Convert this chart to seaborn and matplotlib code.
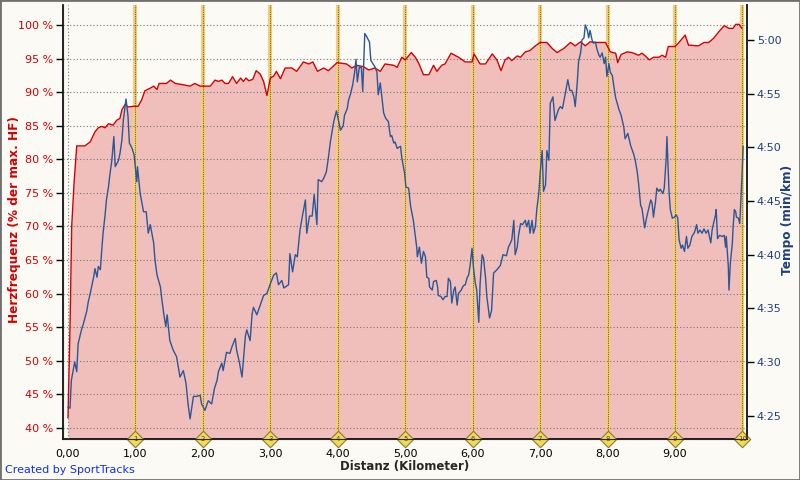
import numpy as np
import pandas as pd
import matplotlib
matplotlib.use("Agg")
import matplotlib.pyplot as plt
import seaborn as sns
from matplotlib.ticker import FuncFormatter
from matplotlib.patches import Rectangle

# heart rate (% of max HR) by distance
hr_km = [0.0, 0.01, 0.03, 0.055, 0.09, 0.13, 0.25, 0.33, 0.40, 0.45, 0.50, 0.55, 0.60, 0.67, 0.72,
         0.77, 0.80, 0.85, 0.89, 0.97, 1.04, 1.09, 1.14, 1.22, 1.27, 1.32, 1.35, 1.46, 1.52, 1.59,
         1.71, 1.81, 1.88, 1.96, 2.11, 2.18, 2.23, 2.28, 2.33, 2.38, 2.44, 2.50, 2.56, 2.60, 2.64,
         2.68, 2.74, 2.79, 2.85, 2.90, 2.95, 3.00, 3.05, 3.09, 3.15, 3.22, 3.32, 3.39, 3.49, 3.57,
         3.63, 3.70, 3.79, 3.86, 3.99, 4.13, 4.21, 4.28, 4.38, 4.46, 4.55, 4.63, 4.70, 4.83, 4.88,
         4.95, 5.00, 5.09, 5.15, 5.20, 5.27, 5.35, 5.42, 5.47, 5.54, 5.59, 5.68, 5.79, 5.89, 5.99,
         6.02, 6.11, 6.19, 6.29, 6.36, 6.42, 6.48, 6.53, 6.58, 6.66, 6.71, 6.78, 6.85, 6.93, 7.00,
         7.10, 7.18, 7.25, 7.35, 7.45, 7.52, 7.60, 7.67, 7.74, 7.84, 7.97, 8.04, 8.12, 8.15, 8.20,
         8.29, 8.36, 8.46, 8.51, 8.56, 8.62, 8.68, 8.76, 8.81, 8.86, 8.90, 9.00, 9.05, 9.15, 9.20,
         9.35, 9.43, 9.50, 9.57, 9.65, 9.73, 9.80, 9.86, 9.90, 9.95, 9.99]
hr_pct = [41.5, 46.0, 55.0, 70.0, 76.5, 82.0, 82.0, 82.6, 84.1, 84.7, 84.9, 84.7, 85.3, 85.1, 85.8,
          86.1, 87.4, 88.2, 87.8, 87.9, 87.9, 88.8, 90.2, 90.6, 90.9, 90.4, 91.3, 91.3, 91.8, 91.3,
          91.1, 90.9, 91.3, 90.9, 90.9, 91.8, 91.6, 91.8, 91.3, 91.3, 92.3, 91.3, 92.1, 91.6, 92.1,
          91.7, 91.9, 93.2, 92.7, 91.6, 89.5, 92.1, 92.4, 93.1, 92.0, 93.6, 93.6, 93.1, 94.5, 94.2,
          94.5, 93.1, 93.6, 93.2, 94.4, 94.2, 93.6, 94.0, 93.8, 93.3, 93.6, 93.1, 94.2, 94.0, 93.7,
          95.2, 94.8, 95.9, 95.2, 94.3, 92.6, 92.6, 94.0, 93.1, 94.0, 94.2, 95.8, 95.2, 94.5, 94.5,
          95.7, 94.2, 94.2, 95.7, 94.8, 93.2, 94.8, 95.2, 94.7, 95.4, 95.2, 96.0, 96.2, 96.9, 97.4,
          97.4, 96.5, 95.9, 96.5, 97.4, 96.9, 97.5, 96.9, 97.5, 97.4, 97.4, 96.0, 95.8, 94.4, 95.6,
          96.0, 95.9, 95.5, 95.8, 95.4, 94.8, 95.2, 95.2, 95.5, 95.2, 96.8, 96.8, 97.3, 98.5, 97.0,
          96.9, 97.4, 97.4, 98.0, 99.0, 99.9, 99.5, 99.5, 100.1, 100.1, 99.5]

# pace in seconds per km by distance
pace_km = [0.00, 0.03, 0.05, 0.10, 0.13, 0.15, 0.20, 0.23, 0.28, 0.30, 0.33, 0.35, 0.38, 0.40, 0.43,
           0.45, 0.48, 0.50, 0.52, 0.55, 0.57, 0.60, 0.62, 0.65, 0.68, 0.70, 0.75, 0.77, 0.80, 0.82,
           0.86, 0.89, 0.91, 0.95, 0.98, 1.02, 1.03, 1.07, 1.12, 1.16, 1.19, 1.22, 1.27, 1.29, 1.32,
           1.37, 1.39, 1.42, 1.45, 1.47, 1.51, 1.56, 1.61, 1.66, 1.71, 1.75, 1.78, 1.81, 1.86, 1.91,
           1.96, 1.98, 2.03, 2.08, 2.13, 2.17, 2.21, 2.23, 2.28, 2.30, 2.35, 2.40, 2.43, 2.48, 2.50,
           2.54, 2.58, 2.63, 2.65, 2.70, 2.73, 2.75, 2.80, 2.85, 2.90, 2.95, 3.00, 3.05, 3.09, 3.12,
           3.17, 3.20, 3.27, 3.29, 3.33, 3.37, 3.40, 3.44, 3.47, 3.52, 3.54, 3.58, 3.62, 3.65, 3.69,
           3.71, 3.76, 3.79, 3.83, 3.86, 3.89, 3.94, 3.98, 4.01, 4.04, 4.08, 4.10, 4.14, 4.16, 4.19,
           4.22, 4.25, 4.27, 4.29, 4.32, 4.35, 4.37, 4.40, 4.43, 4.47, 4.49, 4.52, 4.55, 4.58, 4.60,
           4.63, 4.65, 4.68, 4.71, 4.75, 4.78, 4.80, 4.83, 4.85, 4.88, 4.93, 4.95, 4.99, 5.01, 5.05,
           5.08, 5.12, 5.15, 5.17, 5.18, 5.21, 5.24, 5.27, 5.30, 5.32, 5.35, 5.36, 5.40, 5.42, 5.46,
           5.48, 5.49, 5.53, 5.56, 5.59, 5.62, 5.64, 5.67, 5.69, 5.72, 5.74, 5.77, 5.79, 5.83, 5.86,
           5.89, 5.92, 5.94, 5.96, 5.99, 6.01, 6.04, 6.06, 6.09, 6.11, 6.14, 6.16, 6.19, 6.21, 6.25,
           6.28, 6.31, 6.36, 6.41, 6.45, 6.50, 6.53, 6.56, 6.58, 6.61, 6.63, 6.66, 6.68, 6.71, 6.74,
           6.78, 6.80, 6.83, 6.85, 6.88, 6.90, 6.93, 6.95, 6.98, 7.00, 7.03, 7.05, 7.08, 7.10, 7.13,
           7.15, 7.19, 7.22, 7.27, 7.30, 7.33, 7.37, 7.41, 7.44, 7.47, 7.50, 7.52, 7.55, 7.57, 7.60,
           7.62, 7.65, 7.67, 7.70, 7.72, 7.74, 7.77, 7.79, 7.82, 7.84, 7.87, 7.89, 7.92, 7.95, 7.97,
           7.99, 8.02, 8.04, 8.07, 8.09, 8.12, 8.17, 8.20, 8.24, 8.26, 8.30, 8.34, 8.39, 8.41, 8.44,
           8.46, 8.49, 8.51, 8.55, 8.58, 8.61, 8.64, 8.66, 8.68, 8.71, 8.73, 8.76, 8.78, 8.82, 8.84,
           8.87, 8.88, 8.91, 8.93, 8.96, 8.99, 9.02, 9.04, 9.06, 9.09, 9.11, 9.14, 9.17, 9.19, 9.22,
           9.25, 9.29, 9.32, 9.34, 9.37, 9.40, 9.43, 9.46, 9.49, 9.53, 9.55, 9.57, 9.60, 9.61, 9.63,
           9.66, 9.70, 9.73, 9.75, 9.76, 9.79, 9.80, 9.82, 9.85, 9.86, 9.88, 9.90, 9.91, 9.94, 9.96,
           9.99, 10.01]
pace_sec = [265.8, 265.7, 268.3, 270.0, 269.1, 271.7, 273.0, 273.6, 274.8, 275.6, 276.4, 277.0, 277.9, 278.7, 277.9,
            278.9, 278.6, 280.4, 282.0, 283.7, 285.1, 286.3, 287.4, 288.8, 291.0, 288.2, 288.8, 289.4, 290.7, 292.5,
            294.5, 292.9, 290.4, 289.9, 289.3, 286.8, 288.2, 285.7, 284.0, 284.0, 282.0, 282.8, 281.1, 279.5, 278.1,
            277.0, 275.9, 274.5, 273.3, 274.4, 272.0, 271.1, 270.5, 268.6, 269.2, 268.0, 266.1, 264.7, 266.8, 266.8,
            266.9, 266.1, 265.5, 266.4, 266.1, 267.5, 268.3, 269.1, 269.9, 269.2, 270.9, 270.8, 271.4, 272.2, 271.1,
            270.0, 268.6, 272.4, 273.0, 272.0, 274.5, 275.1, 274.4, 275.3, 276.2, 276.4, 277.3, 278.1, 278.3, 277.2,
            277.6, 276.9, 277.2, 280.1, 278.4, 280.0, 279.8, 282.3, 283.4, 285.1, 282.0, 283.6, 283.6, 285.6, 282.8,
            287.0, 286.8, 287.1, 287.7, 289.0, 290.5, 292.4, 293.4, 292.5, 291.6, 292.0, 293.0, 293.6, 294.4, 295.0,
            295.8, 297.0, 298.2, 296.1, 297.5, 297.4, 295.2, 300.6, 300.3, 299.8, 298.1, 297.8, 297.5, 297.0, 294.9,
            296.0, 294.9, 293.2, 292.7, 292.4, 291.0, 291.1, 290.4, 290.5, 289.9, 290.1, 289.0, 287.6, 286.3, 286.2,
            284.5, 283.2, 281.7, 280.7, 279.8, 280.7, 279.2, 280.3, 279.8, 277.9, 277.8, 277.0, 276.7, 277.5, 277.6,
            277.0, 276.2, 276.1, 275.8, 276.1, 276.1, 277.8, 277.5, 275.5, 276.7, 277.0, 275.3, 276.4, 276.7, 277.1,
            277.2, 277.9, 278.1, 278.9, 280.6, 278.9, 277.3, 276.7, 273.7, 277.3, 280.0, 279.7, 277.9, 276.1, 274.1,
            274.8, 278.3, 278.6, 279.0, 280.0, 279.9, 280.7, 281.1, 281.4, 283.2, 280.0, 280.7, 281.8, 282.9, 282.8,
            283.2, 282.6, 283.2, 282.0, 283.2, 282.0, 282.6, 284.2, 285.7, 287.6, 289.7, 285.9, 286.5, 289.7, 288.8,
            294.1, 294.7, 292.5, 293.5, 293.8, 293.6, 294.9, 296.3, 295.3, 295.3, 294.7, 293.8, 296.0, 298.0, 298.8,
            300.0, 300.2, 301.4, 300.9, 300.2, 300.9, 300.0, 299.7, 299.8, 299.2, 298.6, 298.4, 298.8, 297.8, 298.4,
            296.6, 297.8, 297.0, 296.7, 295.8, 294.6, 293.5, 293.0, 291.9, 290.8, 291.3, 290.2, 289.3, 288.8, 287.7,
            286.6, 284.6, 284.3, 282.5, 283.5, 284.3, 285.1, 284.8, 283.5, 284.9, 286.2, 285.9, 286.1, 285.7, 286.2,
            289.1, 291.0, 286.0, 284.2, 283.4, 283.5, 283.7, 283.4, 281.4, 280.6, 280.9, 280.3, 281.7, 280.6, 280.9,
            281.7, 282.1, 282.8, 282.0, 282.3, 282.0, 282.4, 282.0, 282.3, 281.1, 282.3, 282.9, 283.7, 284.2, 281.5,
            281.8, 281.7, 281.8, 280.7, 281.7, 278.9, 276.7, 279.2, 281.1, 282.5, 284.2, 284.0, 283.5, 283.4, 282.9,
            287.0, 290.1]

km_marks = [1, 2, 3, 4, 5, 6, 7, 8, 9, 10]
hr_ticks = [40, 45, 50, 55, 60, 65, 70, 75, 80, 85, 90, 95, 100]
pace_ticks = [265, 270, 275, 280, 285, 290, 295, 300]

bg = "#fbfaf4"
red = "#d40000"
blue = "#2b5797"
navy = "#1f3f7a"

sns.set_style("white")
plt.rcParams["font.family"] = ["DejaVu Sans"]

fig = plt.figure(figsize=(8, 4.8), dpi=100, facecolor=bg)
ax = fig.add_axes([63 / 800, 41 / 480, 684 / 800, 434 / 480], facecolor=bg)

hr = pd.DataFrame({"km": hr_km, "hr": hr_pct})
pace = pd.DataFrame({"km": pace_km, "sec": pace_sec})

ylo, yhi = 38.36, 102.98
ax.fill_between(hr["km"], hr["hr"], ylo, color="#f0bfbc", lw=0, zorder=1)
sns.lineplot(data=hr, x="km", y="hr", ax=ax, color=red, lw=1.0, zorder=5, sort=False)

# km markers
for k in km_marks:
    ax.axvline(k, color="#f3cf7a", lw=3, zorder=2)
    ax.axvline(k, color="#7a6020", lw=0.8, ls=(0, (1, 1)), zorder=3)
ax.axvline(0, color="#777777", lw=0.8, ls=(0, (1, 2)), zorder=3)
for t in hr_ticks:
    ax.axhline(t, color="#777777", lw=0.8, ls=(0, (1, 2)), zorder=3)

ax.set_xlim(-0.074, 10.067)
ax.set_ylim(ylo, yhi)
ax.set_xticks(range(0, 10))
ax.set_xticklabels([f"{k},00" for k in range(0, 10)])
ax.set_yticks(hr_ticks)
ax.set_yticklabels([f"{t} %" for t in hr_ticks])
ax.tick_params(axis="y", colors=red, labelsize=8, length=5, width=1, direction="out", pad=2)
ax.tick_params(axis="y", color="black")
ax.tick_params(axis="x", labelsize=8, length=0, pad=7, colors="black")
ax.set_xlabel("Distanz (Kilometer)", fontsize=8.5, fontweight="bold", labelpad=1)
ax.set_ylabel("Herzfrequenz (% der max. HF)", fontsize=8.7, fontweight="bold", color=red)
ax.yaxis.set_label_coords(-0.062, 0.505)
ax.spines["top"].set_visible(False)
for s in ["left", "bottom", "right"]:
    ax.spines[s].set_color("black")
    ax.spines[s].set_linewidth(1.2)

ax2 = ax.twinx()
sns.lineplot(data=pace, x="km", y="sec", ax=ax2, color=blue, lw=1.0, zorder=6, sort=False)
ax2.set_ylim(262.83, 303.26)
ax2.set_yticks(pace_ticks)
ax2.yaxis.set_major_formatter(FuncFormatter(lambda v, p: f"{int(v) // 60}:{int(v) % 60:02d}"))
ax2.tick_params(axis="y", colors=navy, labelsize=8, length=5, width=1, pad=2)
ax2.tick_params(axis="y", color="black")
ax2.set_ylabel("Tempo (min/km)", fontsize=8.7, fontweight="bold", color=navy)
ax2.yaxis.set_label_coords(1.049, 0.505)
ax2.spines["top"].set_visible(False)
ax2.spines["right"].set_linewidth(1.2)
ax2.set_xlabel("")

# diamonds with km numbers on the axis
ax.scatter(km_marks, [ylo] * len(km_marks), marker="D", s=70, color="#f2d95c",
           edgecolor="#8a7a30", lw=0.8, zorder=10, clip_on=False)
for k in km_marks:
    ax.text(k, ylo, str(k), fontsize=5, ha="center", va="center", color="#5a4a10",
            zorder=11, clip_on=False)

fig.text(5 / 800, 1 - 470 / 480, "Created by SportTracks", color="#1030e0", fontsize=8,
         ha="left", va="center")
fig.patches.append(Rectangle((0, 0), 1, 1, transform=fig.transFigure, fill=False,
                             edgecolor="#707070", lw=2))

fig.savefig("out.png", dpi=100, facecolor=bg)
